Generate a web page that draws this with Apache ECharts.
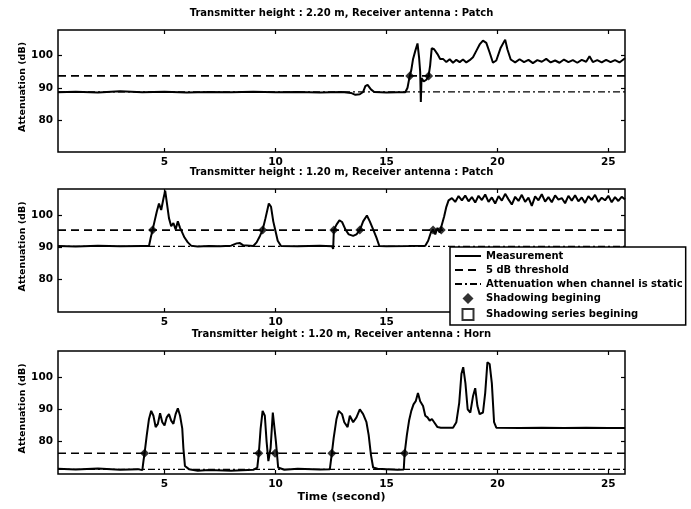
<!DOCTYPE html>
<html><head><meta charset="utf-8">
<script src="https://cdn.jsdelivr.net/npm/echarts@6/dist/echarts.min.js"></script>
<style>html,body{margin:0;padding:0;background:#fff}#c{width:691px;height:509px}</style>
</head><body><div id="c"></div>
<script>
// ---------- data ----------
const titles = [
  'Transmitter height : 2.20 m, Receiver antenna : Patch',
  'Transmitter height : 1.20 m, Receiver antenna : Patch',
  'Transmitter height : 1.20 m, Receiver antenna : Horn'
];
const xTicks = [5, 10, 15, 20, 25];
const yTicks = [80, 90, 100];
const xRange = [0.2, 25.75];
const yRange = [70, 108];
const legendNames = ['Measurement', '5 dB threshold', 'Attenuation when channel is static', 'Shadowing begining', 'Shadowing series begining'];

const thresholds = [93.7, 95.3, 76.4];
const staticLevels = [88.7, 90.3, 71.4];

const meas1 = [
  [0.2,88.6],[1.0,88.8],[2.0,88.5],[3.0,88.9],[4.0,88.6],[5.0,88.8],[6.0,88.5],[7.0,88.7],[8.0,88.6],[9.0,88.8],
  [10.0,88.6],[11.0,88.7],[12.0,88.5],[13.0,88.7],[13.4,88.4],[13.6,87.8],[13.8,88.0],[13.95,88.7],[14.05,90.5],
  [14.15,90.9],[14.3,89.5],[14.45,88.7],[15.0,88.5],[15.5,88.6],[15.85,88.6],[15.95,90.0],[16.05,93.7],[16.12,95.5],
  [16.2,99.0],[16.3,101.5],[16.4,103.8],[16.47,99.5],[16.52,95.0],[16.55,85.6],[16.58,93.0],[16.68,92.0],[16.8,92.5],
  [16.9,93.7],[16.97,97.0],[17.04,102.3],[17.15,102.0],[17.3,100.5],[17.42,99.0],[17.55,99.0],[17.7,98.0],[17.85,98.9],
  [18.0,97.8],[18.15,98.7],[18.3,98.0],[18.45,98.8],[18.6,97.9],[18.75,98.6],[18.9,99.5],[19.05,101.5],[19.2,103.5],
  [19.35,104.7],[19.5,104.0],[19.65,101.0],[19.8,97.8],[19.95,98.5],[20.15,102.5],[20.35,105.0],[20.45,102.0],
  [20.6,98.8],[20.8,97.9],[21.0,98.9],[21.2,98.0],[21.4,98.7],[21.6,97.7],[21.8,98.6],[22.0,98.1],[22.2,99.0],
  [22.4,97.9],[22.6,98.5],[22.8,97.8],[23.0,98.8],[23.2,98.0],[23.4,98.6],[23.6,97.8],[23.8,98.7],[24.0,98.1],
  [24.15,99.8],[24.3,98.0],[24.5,98.6],[24.7,97.9],[24.9,98.7],[25.1,98.0],[25.3,98.6],[25.5,97.9],[25.75,99.2]
];
const meas2 = [
  [0.2,90.4],[1.0,90.2],[2.0,90.5],[3.0,90.3],[4.0,90.4],[4.3,90.4],[4.38,93.0],[4.46,95.3],[4.55,98.0],[4.65,101.0],
  [4.75,103.5],[4.85,101.5],[4.95,105.0],[5.03,107.5],[5.1,104.0],[5.2,99.0],[5.3,96.5],[5.4,97.5],[5.5,95.5],
  [5.6,98.0],[5.7,96.0],[5.8,94.5],[5.9,93.0],[6.05,91.5],[6.2,90.5],[6.5,90.2],[7.0,90.4],[7.5,90.3],[8.0,90.5],
  [8.25,91.2],[8.4,91.3],[8.55,90.6],[9.0,90.4],[9.15,91.5],[9.3,93.5],[9.42,95.3],[9.55,99.0],[9.7,103.5],
  [9.8,102.5],[9.9,98.0],[10.0,95.0],[10.1,92.0],[10.25,90.4],[11.0,90.3],[12.0,90.5],[12.55,90.3],[12.6,89.5],
  [12.63,95.3],[12.75,97.0],[12.88,98.3],[13.0,97.8],[13.15,95.5],[13.3,94.0],[13.5,93.5],[13.65,94.0],[13.8,95.3],
  [13.95,98.0],[14.12,99.8],[14.25,98.0],[14.4,95.5],[14.55,93.0],[14.68,90.4],[15.0,90.3],[16.0,90.4],[16.75,90.5],
  [16.88,92.0],[17.0,94.5],[17.1,95.5],[17.2,94.0],[17.3,96.0],[17.4,94.5],[17.5,97.0],[17.6,99.5],[17.7,102.5],
  [17.8,104.5],[17.95,105.2],[18.1,104.0],[18.25,105.8],[18.4,104.5],[18.55,106.0],[18.7,104.2],[18.85,105.5],
  [19.0,103.8],[19.15,105.9],[19.3,104.6],[19.45,106.3],[19.6,104.0],[19.75,105.4],[19.9,103.5],[20.05,105.8],
  [20.2,104.4],[20.35,106.5],[20.5,104.8],[20.65,103.2],[20.8,105.6],[20.95,104.3],[21.1,106.2],[21.25,104.0],
  [21.4,105.3],[21.55,102.8],[21.7,105.7],[21.85,104.5],[22.0,106.4],[22.15,104.1],[22.3,105.5],[22.45,103.9],
  [22.6,106.0],[22.75,104.7],[22.9,105.2],[23.05,103.6],[23.2,105.9],[23.35,104.4],[23.5,106.1],[23.65,104.2],
  [23.8,105.4],[23.95,103.7],[24.1,105.8],[24.25,104.6],[24.4,106.2],[24.55,104.0],[24.7,105.3],[24.85,104.5],
  [25.0,105.9],[25.15,103.9],[25.3,105.5],[25.45,104.3],[25.6,105.6],[25.75,104.8]
];
const meas3 = [
  [0.2,71.6],[1.0,71.4],[2.0,71.7],[3.0,71.3],[3.8,71.5],[4.0,71.2],[4.05,74.0],[4.1,76.4],[4.2,82.0],[4.3,87.0],
  [4.4,89.5],[4.5,88.0],[4.6,84.5],[4.7,85.5],[4.8,88.8],[4.9,86.0],[5.0,85.0],[5.1,87.5],[5.2,88.5],[5.3,86.5],
  [5.4,85.5],[5.5,88.5],[5.6,90.3],[5.7,88.0],[5.8,84.0],[5.85,78.0],[5.92,72.5],[6.1,71.5],[6.5,71.0],[7.0,71.2],
  [8.0,71.0],[9.0,71.3],[9.18,72.0],[9.25,76.4],[9.33,84.0],[9.42,89.5],[9.52,88.0],[9.6,80.0],[9.68,74.0],
  [9.78,78.0],[9.88,89.0],[9.95,88.5],[10.02,80.0],[10.12,72.0],[10.4,71.3],[11.0,71.6],[12.0,71.4],[12.45,71.5],
  [12.54,76.4],[12.62,81.0],[12.75,87.0],[12.85,89.5],[13.0,88.5],[13.1,86.0],[13.25,84.5],[13.35,88.0],[13.5,86.0],
  [13.65,87.5],[13.8,90.0],[13.95,88.5],[14.1,86.0],[14.2,82.0],[14.3,76.0],[14.4,72.0],[14.6,71.6],[15.0,71.5],
  [15.5,71.3],[15.78,71.4],[15.82,76.4],[15.92,82.0],[16.02,86.5],[16.12,89.5],[16.22,91.5],[16.32,92.5],
  [16.42,95.0],[16.52,92.5],[16.65,91.0],[16.75,88.0],[16.85,87.5],[16.95,86.5],[17.05,87.0],[17.15,86.0],
  [17.3,84.5],[17.45,84.3],[18.0,84.3],[18.15,86.0],[18.28,92.0],[18.38,101.0],[18.46,103.0],[18.56,98.0],
  [18.66,90.0],[18.78,89.0],[18.9,94.0],[19.0,96.5],[19.1,91.0],[19.2,88.5],[19.35,89.0],[19.45,95.0],
  [19.55,104.5],[19.65,104.0],[19.75,98.0],[19.85,86.0],[19.95,84.3],[21.0,84.2],[22.0,84.3],[23.0,84.2],
  [24.0,84.3],[25.0,84.2],[25.75,84.2]
];
const shadow1 = [[16.05,93.7],[16.9,93.7]];
const shadow2 = [[4.46,95.3],[9.42,95.3],[12.63,95.3],[13.8,95.3],[17.1,95.3],[17.47,95.3]];
const shadow3 = [[4.1,76.4],[9.25,76.4],[9.98,76.4],[12.54,76.4],[15.82,76.4]];
const seriesStart = [];

// ---------- layout ----------
const FONT = '"DejaVu Sans", "Liberation Sans", sans-serif';
const gridTops = [30, 189, 351];
const gridH = [122, 123, 123];
const GL = 58, GW = 567;
const measAll = [meas1, meas2, meas3];
const shadowAll = [shadow1, shadow2, shadow3];

const grids = [], xAxes = [], yAxes = [], series = [], graphics = [];
for (let i = 0; i < 3; i++) {
  grids.push({left: GL, top: gridTops[i], width: GW, height: gridH[i], show: true,
    borderColor: '#000', borderWidth: 1.5, backgroundColor: 'transparent'});
  const tickCommon = {show: true, inside: true, length: 4, lineStyle: {color: '#000', width: 1.2}};
  xAxes.push({type: 'value', gridIndex: i, min: xRange[0], max: xRange[1], position: 'bottom',
    axisLine: {show: false}, splitLine: {show: false},
    axisTick: Object.assign({customValues: xTicks}, tickCommon),
    axisLabel: {customValues: xTicks, margin: 5, color: '#000', fontSize: 10.5, fontWeight: 'bold', fontFamily: FONT}});
  xAxes.push({type: 'value', gridIndex: i, min: xRange[0], max: xRange[1], position: 'top',
    axisLine: {show: false}, splitLine: {show: false},
    axisTick: Object.assign({customValues: xTicks}, tickCommon), axisLabel: {show: false}});
  yAxes.push({type: 'value', gridIndex: i, min: yRange[0], max: yRange[1], position: 'left',
    axisLine: {show: false}, splitLine: {show: false},
    axisTick: Object.assign({customValues: yTicks}, tickCommon),
    axisLabel: {customValues: yTicks, margin: 5, color: '#000', fontSize: 10.5, fontWeight: 'bold', fontFamily: FONT}});
  yAxes.push({type: 'value', gridIndex: i, min: yRange[0], max: yRange[1], position: 'right',
    axisLine: {show: false}, splitLine: {show: false},
    axisTick: Object.assign({customValues: yTicks}, tickCommon), axisLabel: {show: false}});

  const xi = 2 * i, yi = 2 * i;
  series.push({name: legendNames[2], type: 'line', xAxisIndex: xi, yAxisIndex: yi, symbol: 'none', silent: true,
    itemStyle: {color: '#000'}, lineStyle: {color: '#000', width: 1.2, type: [7, 3, 2, 3]}, z: 2,
    data: [[xRange[0], staticLevels[i]], [xRange[1], staticLevels[i]]]});
  series.push({name: legendNames[1], type: 'line', xAxisIndex: xi, yAxisIndex: yi, symbol: 'none', silent: true,
    itemStyle: {color: '#000'}, lineStyle: {color: '#000', width: 1.6, type: [8, 5]}, z: 2,
    data: [[xRange[0], thresholds[i]], [xRange[1], thresholds[i]]]});
  series.push({name: legendNames[0], type: 'line', xAxisIndex: xi, yAxisIndex: yi, symbol: 'none', silent: true,
    itemStyle: {color: '#000'}, lineStyle: {color: '#000', width: 2}, z: 3, data: measAll[i]});
  series.push({name: legendNames[3], type: 'scatter', xAxisIndex: xi, yAxisIndex: yi, symbol: 'diamond', symbolSize: 9,
    itemStyle: {color: '#000'}, z: 4, data: shadowAll[i]});

  graphics.push({type: 'text', x: GL + GW / 2, y: gridTops[i] - 17,
    style: {text: titles[i], fill: '#000', font: 'bold 10px ' + FONT, textAlign: 'center', textVerticalAlign: 'middle'}});
  graphics.push({type: 'text', x: 23, y: gridTops[i] + gridH[i] / 2 - 4, rotation: Math.PI / 2,
    style: {text: 'Attenuation (dB)', fill: '#000', font: 'bold 9.5px ' + FONT, textAlign: 'center', textVerticalAlign: 'middle'}});
}
series.push({name: legendNames[4], type: 'scatter', xAxisIndex: 0, yAxisIndex: 0, symbol: 'rect', symbolSize: 8,
  itemStyle: {color: '#fff', borderColor: '#000', borderWidth: 1.2}, data: seriesStart});
graphics.push({type: 'text', x: GL + GW / 2, y: 497,
  style: {text: 'Time (second)', fill: '#000', font: 'bold 11px ' + FONT, textAlign: 'center', textVerticalAlign: 'middle'}});

const hideSym = {opacity: 0};
const chart = echarts.init(document.getElementById('c'), null, {renderer: 'canvas'});
chart.setOption({
  backgroundColor: '#fff',
  animation: false,
  grid: grids, xAxis: xAxes, yAxis: yAxes, series: series,
  graphic: graphics,
  legend: {
    data: [
      {name: legendNames[0], itemStyle: hideSym},
      {name: legendNames[1], itemStyle: hideSym},
      {name: legendNames[2], itemStyle: hideSym},
      {name: legendNames[3], icon: 'path://M5,1L9,5L5,9L1,5Z'},
      {name: legendNames[4], icon: 'path://M1,1H9V9H1Z'}
    ],
    orient: 'vertical', left: 450, top: 247, z: 20, symbolKeepAspect: true,
    backgroundColor: '#fff', borderColor: '#000', borderWidth: 1.5, borderRadius: 0,
    padding: [4, 3, 4, 4], itemGap: 4, itemWidth: 26, itemHeight: 11, selectedMode: false,
    textStyle: {color: '#000', fontSize: 10, fontWeight: 'bold', fontFamily: FONT}
  }
});
</script>
</body></html>
